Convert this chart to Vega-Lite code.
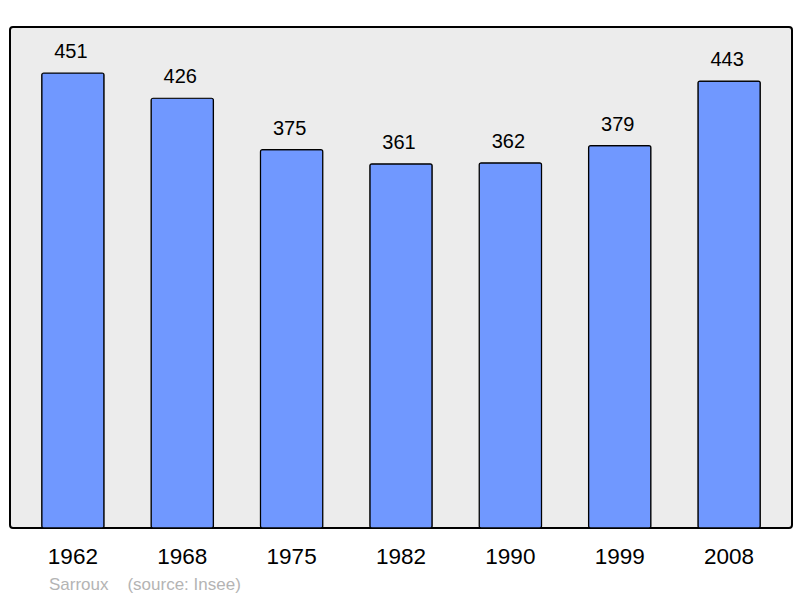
{
  "$schema": "https://vega.github.io/schema/vega-lite/v6.json",
  "width": 782,
  "height": 501,
  "autosize": {"type": "none"},
  "padding": {"left": 10, "top": 27, "right": 8, "bottom": 70},
  "background": "#ffffff",
  "config": {
    "view": {"stroke": "#000000", "strokeWidth": 2, "fill": "#ececec", "cornerRadius": 3},
    "font": "Liberation Sans"
  },
  "data": {
    "values": [
      {"year": "1962", "pop": 451},
      {"year": "1968", "pop": 426},
      {"year": "1975", "pop": 375},
      {"year": "1982", "pop": 361},
      {"year": "1990", "pop": 362},
      {"year": "1999", "pop": 379},
      {"year": "2008", "pop": 443}
    ]
  },
  "title": {
    "text": "Sarroux\u00a0\u00a0\u00a0\u00a0(source: Insee)",
    "orient": "bottom",
    "anchor": "start",
    "dx": 39,
    "offset": 9,
    "fontSize": 17,
    "fontWeight": "normal",
    "color": "#b4b4b4",
    "font": "Liberation Sans"
  },
  "encoding": {
    "x": {
      "field": "year",
      "type": "ordinal",
      "scale": {"paddingInner": 0.43, "paddingOuter": 0.29},
      "axis": {
        "title": null,
        "domain": false,
        "ticks": false,
        "labelAngle": 0,
        "labelFontSize": 22.5,
        "labelColor": "#000000",
        "labelPadding": 17,
        "labelFont": "Liberation Sans"
      }
    },
    "y": {
      "field": "pop",
      "type": "quantitative",
      "scale": {"domain": [0, 496.6], "nice": false},
      "axis": null
    }
  },
  "layer": [
    {
      "mark": {"type": "bar", "fill": "#7098ff", "stroke": "#000000", "strokeWidth": 1.2, "cornerRadius": 2}
    },
    {
      "mark": {"type": "text", "baseline": "bottom", "dy": -11, "dx": -2, "fontSize": 20, "color": "#000000", "font": "Liberation Sans"},
      "encoding": {"text": {"field": "pop", "type": "quantitative"}}
    }
  ]
}
